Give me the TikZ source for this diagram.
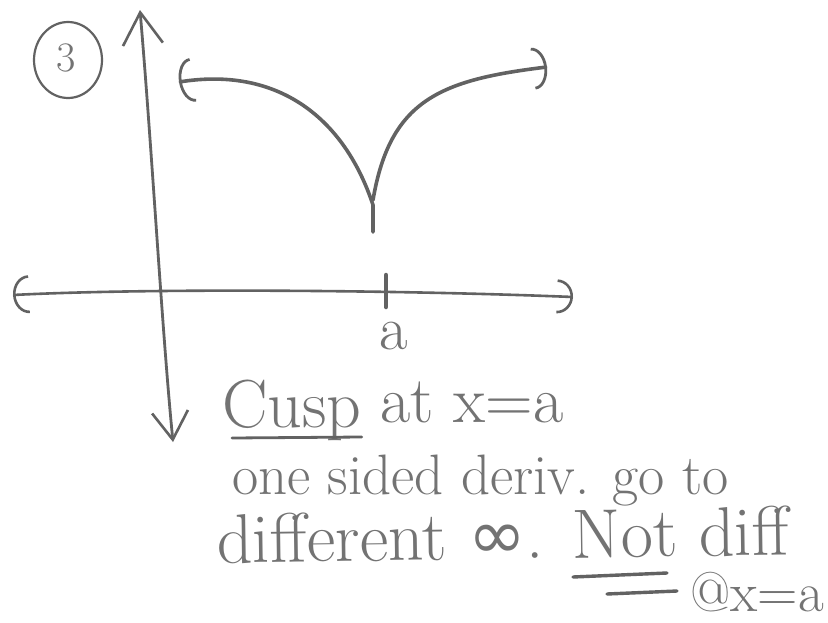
\documentclass[tikz,border=0pt]{standalone}
\usepackage{fontspec}
\newfontfamily\symfont{DejaVu Sans}
\usetikzlibrary{arrows.meta,shapes.geometric,calc}
\definecolor{pencil}{RGB}{98,98,98}
\definecolor{lead}{RGB}{115,115,115}
\tikzset{
  pen/.style={draw=pencil, line width=3pt, line cap=round, line join=round},
  hand/.style={text=lead, inner sep=0pt, anchor=base west}
}
\begin{document}
\begin{tikzpicture}[x=1pt,y=-1pt]
\useasboundingbox[fill=white] (0,0) rectangle (828,622);
% circled 3
\node[draw=pencil, line width=2.2pt, ellipse, minimum width=68pt, minimum height=76pt] (num) at (68,60) {};
\node[text=lead, font=\fontsize{42}{46}\selectfont] (three) at (66,58) {3};
% y-axis
\coordinate (ytop) at (140,10);
\coordinate (ybot) at (173,442);
\draw[pen, line width=2.8pt, {Straight Barb[length=28pt,width=36pt,line width=2.6pt]}-{Straight Barb[length=32pt,width=40pt,line width=2.6pt]}] (ybot) .. controls (162,330) and (152,150) .. (ytop);
% x-axis
\coordinate (xl) at (13,295);
\coordinate (xr) at (573,297);
\draw[pen, line width=2.6pt, {Arc Barb[length=16pt,width=38pt,line width=2.6pt]}-{Arc Barb[length=16pt,width=34pt,line width=2.6pt]}] (xl) .. controls (150,288) and (400,290) .. (xr);
% tick
\coordinate (tt) at (386,275);
\coordinate (tb) at (386,307);
\draw[pen, line width=4.5pt] (tt) -- (tb);
\node[text=lead, font=\fontsize{62}{66}\selectfont, inner sep=0pt] (alab) at (394,336) {a};
% cusp curve
\coordinate (cusp) at (373,232);
\coordinate (lj) at (373,205);
\coordinate (rj) at (373,200);
\coordinate (lend) at (179,82);
\coordinate (rend) at (547,67);
\draw[pen, line width=3.6pt, -{Arc Barb[length=14pt,width=44pt,line width=2.8pt]}] (cusp) -- (lj) .. controls (345,120) and (280,66) .. (lend);
\draw[pen, line width=3.6pt, -{Arc Barb[length=14pt,width=42pt,line width=2.8pt]}] (rj) .. controls (390,100) and (440,80) .. (rend);
% text
\node[hand, font=\fontsize{68}{72}\selectfont] (cuspw) at (222,427) {Cusp};
\node[hand, font=\fontsize{66}{70}\selectfont] (l1) at (380,422) {at x=a};
\draw[pen, line width=2.8pt] ($(cuspw.base west)+(10,11)$) -- ($(cuspw.base east)+(0,10)$);
\node[hand, font=\fontsize{57}{61}\selectfont] (l2) at (232,494) {one sided deriv. go to};
\node[hand, font=\fontsize{70}{74}\selectfont, rotate=0.8] (l3) at (217,563) {different {\symfont ∞}. Not diff};
\node[hand, font=\fontsize{56}{60}\selectfont, anchor=base east] (l4) at (824,611) {@x=a};
\coordinate (u1a) at (573,577); \coordinate (u1b) at (667,573);
\draw[pen, line width=3.4pt] (u1a) -- (u1b);
\coordinate (u2a) at (607,594); \coordinate (u2b) at (677,591);
\draw[pen, line width=3.4pt] (u2a) -- (u2b);
\end{tikzpicture}
\end{document}
